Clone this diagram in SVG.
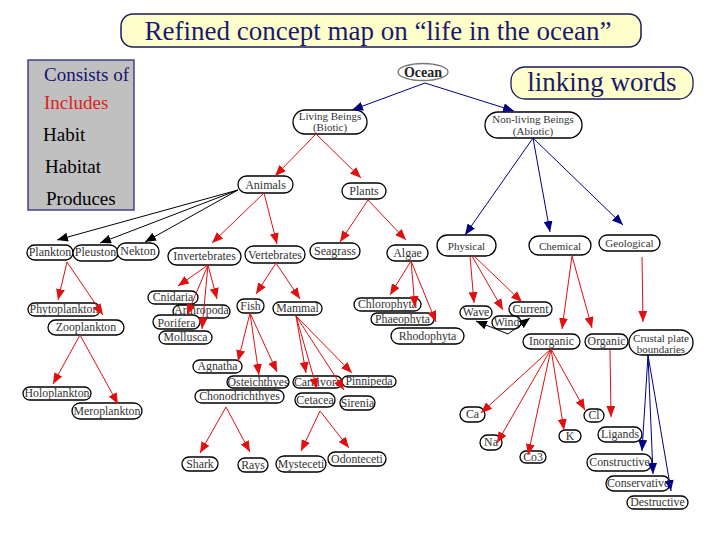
<svg xmlns="http://www.w3.org/2000/svg" width="728" height="546" viewBox="0 0 728 546">
<style>
.nd rect{fill:#fff;stroke:#000;stroke-width:1.3}
.t{font-family:'Liberation Serif',serif;font-size:12px;fill:#333;text-anchor:middle}
.s{font-size:11px}
.m{font-size:11.8px}
.r{stroke:#e01010;stroke-width:1;fill:none;marker-end:url(#ar)}
.b{stroke:#000080;stroke-width:1;fill:none;marker-end:url(#ab)}
.k{stroke:#000;stroke-width:1;fill:none;marker-end:url(#ak)}
.lg{font-family:'Liberation Serif',serif;font-size:19px}
</style>
<defs>
<marker id="ar" markerUnits="userSpaceOnUse" markerWidth="11" markerHeight="9" refX="11" refY="4.5" orient="auto"><path d="M0,0 L11,4.5 L0,9 z" fill="#e01010"/></marker>
<marker id="ab" markerUnits="userSpaceOnUse" markerWidth="11" markerHeight="9" refX="11" refY="4.5" orient="auto"><path d="M0,0 L11,4.5 L0,9 z" fill="#000080"/></marker>
<marker id="ak" markerUnits="userSpaceOnUse" markerWidth="11" markerHeight="9" refX="11" refY="4.5" orient="auto"><path d="M0,0 L11,4.5 L0,9 z" fill="#000"/></marker>
</defs>
<rect width="728" height="546" fill="#fff"/>
<g id="title">
<rect x="121" y="14" width="520" height="33" rx="12" fill="#ffffcc" stroke="#1a1a5e" stroke-width="1.5"/>
<text x="378" y="40" font-family="'Liberation Serif',serif" font-size="27" fill="#1a1a6e" text-anchor="middle">Refined concept map on “life in the ocean”</text>
</g>
<g id="legend">
<rect x="28" y="60" width="106" height="150" fill="#c0c0c0" stroke="#2a2a7a" stroke-width="1.3"/>
<text class="lg" x="44" y="81" fill="#141470">Consists of</text>
<text class="lg" x="44" y="109" fill="#e02020">Includes</text>
<text class="lg" x="43" y="141" fill="#000">Habit</text>
<text class="lg" x="45" y="173" fill="#000">Habitat</text>
<text class="lg" x="46" y="205" fill="#000">Produces</text>
</g>
<g id="linking-words">
<rect x="511" y="67" width="182" height="32" rx="14" fill="#ffffcc" stroke="#1a1a5e" stroke-width="1.3"/>
<text x="602" y="91" font-family="'Liberation Serif',serif" font-size="27" fill="#1a1a6e" text-anchor="middle">linking words</text>
</g>
<g id="nodes">
<g id="ocean"><ellipse cx="423" cy="72" rx="25" ry="8.5" fill="#fff" stroke="#777" stroke-width="1.3"/><text x="423" y="77" font-family="'Liberation Serif',serif" font-size="14" font-weight="bold" fill="#222" text-anchor="middle">Ocean</text></g>
<g id="living" class="nd"><rect x="293" y="110" width="74" height="24" rx="12"/><text class="t s" x="330" y="120">Living Beings</text><text class="t s" x="330" y="131">(Biotic)</text></g>
<g id="nonliving" class="nd"><rect x="485" y="112" width="97" height="26" rx="13"/><text class="t s" x="533" y="123">Non-living Beings</text><text class="t s" x="533" y="135">(Abiotic)</text></g>
<g id="animals" class="nd"><rect x="238" y="176" width="55" height="17" rx="8.5"/><text class="t" x="265.5" y="189">Animals</text></g>
<g id="plants" class="nd"><rect x="342" y="183" width="44" height="16" rx="8"/><text class="t" x="364" y="195">Plants</text></g>
<g id="plankton" class="nd"><rect x="27" y="245" width="46" height="15" rx="7.5"/><text class="t" x="50" y="256">Plankton</text></g>
<g id="pleuston" class="nd"><rect x="73" y="245" width="45" height="16" rx="8"/><text class="t" x="95.5" y="256">Pleuston</text></g>
<g id="nekton" class="nd"><rect x="117" y="243" width="42" height="17" rx="8.5"/><text class="t" x="138" y="255">Nekton</text></g>
<g id="invertebrates" class="nd"><rect x="168" y="248" width="73" height="17" rx="8.5"/><text class="t" x="204.5" y="260">Invertebrates</text></g>
<g id="vertebrates" class="nd"><rect x="245" y="246" width="60" height="17" rx="8.5"/><text class="t" x="275" y="259">Vertebrates</text></g>
<g id="seagrass" class="nd"><rect x="310" y="243" width="50" height="16" rx="8"/><text class="t" x="335" y="255">Seagrass</text></g>
<g id="algae" class="nd"><rect x="387" y="245" width="41" height="16" rx="8"/><text class="t" x="407.5" y="257">Algae</text></g>
<g id="physical" class="nd"><rect x="437" y="235" width="59" height="21" rx="10.5"/><text class="t s" x="466.5" y="250">Physical</text></g>
<g id="chemical" class="nd"><rect x="529" y="236" width="62" height="19" rx="9.5"/><text class="t s" x="560" y="250">Chemical</text></g>
<g id="geological" class="nd"><rect x="599" y="235" width="61" height="16" rx="8"/><text class="t s" x="629.5" y="247">Geological</text></g>
<g id="phytoplankton" class="nd"><rect x="28" y="303" width="72" height="13" rx="6.5"/><text class="t m" x="64" y="313">Phytoplankton</text></g>
<g id="zooplankton" class="nd"><rect x="48" y="320" width="76" height="15" rx="7.5"/><text class="t m" x="86" y="331">Zooplankton</text></g>
<g id="cnidaria" class="nd"><rect x="148" y="291" width="50" height="13" rx="6.5"/><text class="t m" x="173" y="301">Cnidaria</text></g>
<g id="arthropoda" class="nd"><rect x="173" y="305" width="57" height="13" rx="6.5"/><text class="t m" x="201.5" y="314">Arthropoda</text></g>
<g id="porifera" class="nd"><rect x="153" y="315" width="47" height="14" rx="7"/><text class="t m" x="176.5" y="327">Porifera</text></g>
<g id="mollusca" class="nd"><rect x="159" y="331" width="53" height="13" rx="6.5"/><text class="t m" x="185.5" y="341">Mollusca</text></g>
<g id="fish" class="nd"><rect x="237" y="299" width="27" height="14" rx="7"/><text class="t m" x="250.5" y="310">Fish</text></g>
<g id="mammal" class="nd"><rect x="273" y="302" width="49" height="13" rx="6.5"/><text class="t m" x="297.5" y="312">Mammal</text></g>
<g id="chlorophyta" class="nd"><rect x="354" y="298" width="67" height="13" rx="6.5"/><text class="t m" x="387.5" y="308">Chlorophyta</text></g>
<g id="phaeophyta" class="nd"><rect x="371" y="313" width="63" height="12" rx="6"/><text class="t m" x="402.5" y="323">Phaeophyta</text></g>
<g id="rhodophyta" class="nd"><rect x="391" y="328" width="73" height="16" rx="8"/><text class="t m" x="427.5" y="340">Rhodophyta</text></g>
<g id="wave" class="nd"><rect x="460" y="306" width="32" height="13" rx="6.5"/><text class="t m" x="476" y="316">Wave</text></g>
<g id="wind" class="nd"><rect x="492" y="316" width="29" height="13" rx="6.5"/><text class="t m" x="506.5" y="326">Wind</text></g>
<g id="current" class="nd"><rect x="509" y="302" width="43" height="14" rx="7"/><text class="t m" x="530.5" y="313">Current</text></g>
<g id="inorganic" class="nd"><rect x="523" y="334" width="57" height="15" rx="7.5"/><text class="t m" x="551.5" y="345">Inorganic</text></g>
<g id="organic" class="nd"><rect x="585" y="334" width="43" height="15" rx="7.5"/><text class="t m" x="606.5" y="345">Organic</text></g>
<g id="crustal" class="nd"><rect x="629" y="330" width="64" height="25" rx="12.5"/><text class="t s" x="661" y="342">Crustal plate</text><text class="t s" x="661" y="353">boundaries</text></g>
<g id="holoplankton" class="nd"><rect x="23" y="387" width="68" height="13" rx="6.5"/><text class="t m" x="57" y="397">Holoplankton</text></g>
<g id="meroplankton" class="nd"><rect x="72" y="403" width="70" height="16" rx="8"/><text class="t m" x="107" y="415">Meroplankton</text></g>
<g id="agnatha" class="nd"><rect x="193" y="360" width="49" height="13" rx="6.5"/><text class="t m" x="217.5" y="370">Agnatha</text></g>
<g id="osteichthyes" class="nd"><rect x="227" y="376" width="62" height="12" rx="6"/><text class="t m" x="258" y="386">Osteichthyes</text></g>
<g id="chonodrichthyes" class="nd"><rect x="195" y="390" width="89" height="13" rx="6.5"/><text class="t m" x="239.5" y="400">Chonodrichthyes</text></g>
<g id="carnivora" class="nd"><rect x="293" y="376" width="49" height="12" rx="6"/><text class="t m" x="317.5" y="386">Carnivora</text></g>
<g id="pinnipeda" class="nd"><rect x="342" y="376" width="54" height="11" rx="5.5"/><text class="t m" x="369" y="385">Pinnipeda</text></g>
<g id="cetacea" class="nd"><rect x="295" y="393" width="40" height="14" rx="7"/><text class="t m" x="315" y="404">Cetacea</text></g>
<g id="sirenia" class="nd"><rect x="340" y="396" width="35" height="14" rx="7"/><text class="t m" x="357.5" y="407">Sirenia</text></g>
<g id="shark" class="nd"><rect x="182" y="457" width="36" height="14" rx="7"/><text class="t m" x="200" y="468">Shark</text></g>
<g id="rays" class="nd"><rect x="238" y="458" width="30" height="14" rx="7"/><text class="t m" x="253" y="469">Rays</text></g>
<g id="mysteceti" class="nd"><rect x="276" y="456" width="50" height="16" rx="8"/><text class="t m" x="301" y="468">Mysteceti</text></g>
<g id="odonteceti" class="nd"><rect x="328" y="452" width="58" height="14" rx="7"/><text class="t m" x="357" y="463">Odonteceti</text></g>
<g id="ca" class="nd"><rect x="460" y="407" width="25" height="15" rx="7.5"/><text class="t m" x="472.5" y="418">Ca</text></g>
<g id="na" class="nd"><rect x="480" y="435" width="22" height="15" rx="7.5"/><text class="t m" x="491" y="446">Na</text></g>
<g id="co3" class="nd"><rect x="520" y="451" width="26" height="12" rx="6"/><text class="t m" x="533" y="461">Co3</text></g>
<g id="k" class="nd"><rect x="559" y="430" width="22" height="12" rx="6"/><text class="t m" x="570" y="440">K</text></g>
<g id="cl" class="nd"><rect x="584" y="409" width="20" height="13" rx="6.5"/><text class="t m" x="594" y="419">Cl</text></g>
<g id="ligands" class="nd"><rect x="598" y="427" width="44" height="15" rx="7.5"/><text class="t m" x="620" y="438">Ligands</text></g>
<g id="constructive" class="nd"><rect x="587" y="454" width="65" height="17" rx="8.5"/><text class="t m" x="619.5" y="466">Constructive</text></g>
<g id="conservative" class="nd"><rect x="606" y="476" width="64" height="15" rx="7.5"/><text class="t m" x="638" y="487">Conservative</text></g>
<g id="destructive" class="nd"><rect x="627" y="496" width="61" height="13" rx="6.5"/><text class="t m" x="657.5" y="506">Destructive</text></g>
</g>
<g id="connectors">
<path class="b" d="M425,83 L352,110"/>
<path class="b" d="M425,83 L514,111"/>
<path class="b" d="M533,138 L465,235"/>
<path class="b" d="M533,138 L550,232"/>
<path class="b" d="M533,138 L623,225"/>
<path class="b" d="M648,355 L642,451"/>
<path class="b" d="M648,355 L653,474"/>
<path class="b" d="M648,355 L671,491"/>
<path class="k" d="M238,190 L57,240"/>
<path class="k" d="M238,190 L100,243"/>
<path class="k" d="M238,190 L145,242"/>
<path class="k" d="M508,334 L476,321"/>
<path class="k" d="M508,334 L530,318"/>
<path class="r" d="M316,134 L275,176"/>
<path class="r" d="M316,134 L361,178"/>
<path class="r" d="M264,193 L212,243"/>
<path class="r" d="M264,193 L277,244"/>
<path class="r" d="M368,200 L340,242"/>
<path class="r" d="M368,200 L406,240"/>
<path class="r" d="M67,262 L58,300"/>
<path class="r" d="M67,262 L103,315"/>
<path class="r" d="M80,335 L53,384"/>
<path class="r" d="M80,335 L118,404"/>
<path class="r" d="M208,265 L178,286"/>
<path class="r" d="M208,265 L217,299"/>
<path class="r" d="M208,265 L187,315"/>
<path class="r" d="M208,265 L202,329"/>
<path class="r" d="M276,263 L256,294"/>
<path class="r" d="M276,263 L300,299"/>
<path class="r" d="M250,313 L238,361"/>
<path class="r" d="M250,313 L259,375"/>
<path class="r" d="M250,313 L277,372"/>
<path class="r" d="M226,407 L200,453"/>
<path class="r" d="M226,407 L250,452"/>
<path class="r" d="M296,316 L306,373"/>
<path class="r" d="M296,316 L317,389"/>
<path class="r" d="M296,316 L352,373"/>
<path class="r" d="M296,316 L344,390"/>
<path class="r" d="M320,411 L301,451"/>
<path class="r" d="M320,411 L349,448"/>
<path class="r" d="M411,261 L390,295"/>
<path class="r" d="M411,261 L415,307"/>
<path class="r" d="M411,261 L436,322"/>
<path class="r" d="M470,256 L474,303"/>
<path class="r" d="M472,256 L503,310"/>
<path class="r" d="M474,256 L522,302"/>
<path class="r" d="M572,256 L562,329"/>
<path class="r" d="M572,256 L592,328"/>
<path class="r" d="M642,257 L643,322"/>
<path class="r" d="M610,350 L611,417"/>
<path class="r" d="M551,349 L481,413"/>
<path class="r" d="M551,349 L497,443"/>
<path class="r" d="M551,349 L528,455"/>
<path class="r" d="M551,349 L564,430"/>
<path class="r" d="M551,349 L585,410"/>
</g>
</svg>
